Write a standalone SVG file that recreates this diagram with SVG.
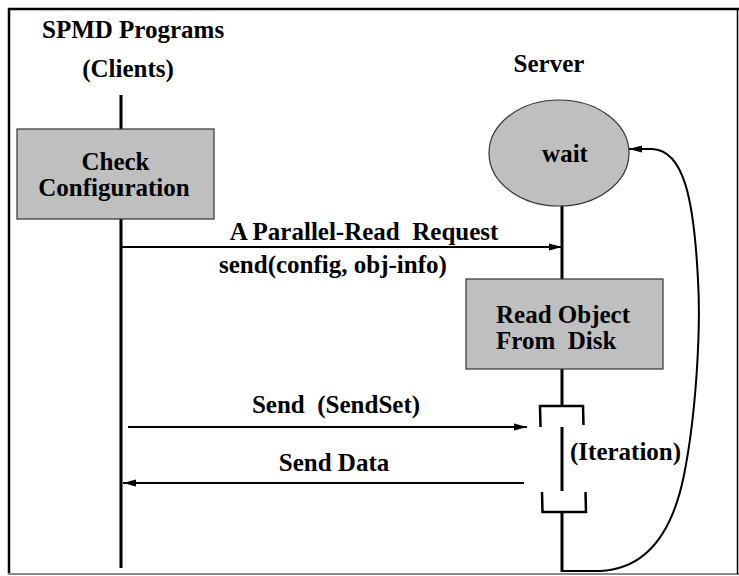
<svg xmlns="http://www.w3.org/2000/svg" width="739" height="576" viewBox="0 0 739 576">
  <defs>
    <marker id="arrow" markerUnits="userSpaceOnUse" markerWidth="14" markerHeight="8" refX="13" refY="4" orient="auto">
      <path d="M0,0.5 L13,4 L0,7.5 Z" fill="#000"/>
    </marker>
    <style>
      text { font-family: "Liberation Serif", "DejaVu Serif", serif; font-weight: 700; font-size: 25px; fill: #000; white-space: pre; }
      .mid { text-anchor: middle; }
      .box { fill: #bfbfbf; stroke: #333; stroke-width: 1.2; }
      .life { stroke: #000; stroke-width: 3; fill: none; }
      .msg { stroke: #000; stroke-width: 2; fill: none; marker-end: url(#arrow); }
      .bracket { stroke: #000; stroke-width: 2.5; fill: none; }
    </style>
  </defs>

  <!-- frame -->
  <rect x="0" y="0" width="739" height="576" fill="#fff"/>
  <line x1="8" y1="9" x2="739" y2="9" stroke="#000" stroke-width="2.5"/>
  <line x1="9" y1="8" x2="9" y2="574" stroke="#000" stroke-width="2.5"/>
  <line x1="8" y1="574" x2="739" y2="574" stroke="#8c8c8c" stroke-width="2"/>
  <line x1="737.5" y1="8" x2="737.5" y2="574" stroke="#000" stroke-width="1.5"/>

  <!-- column headings -->
  <g id="clients-heading">
    <text x="42" y="38">SPMD Programs</text>
    <text class="mid" x="128" y="77">(Clients)</text>
  </g>
  <g id="server-heading">
    <text class="mid" x="549" y="72">Server</text>
  </g>

  <!-- lifelines -->
  <g id="lifelines">
    <line class="life" x1="121" y1="95" x2="121" y2="568"/>
    <line class="life" x1="562" y1="200" x2="562" y2="406"/>
    <line class="life" x1="562" y1="427" x2="562" y2="491"/>
    <line class="life" x1="562" y1="512" x2="562" y2="572"/>
  </g>

  <!-- iteration brackets -->
  <g id="iteration">
    <path class="bracket" d="M540.5,427 L540,406 L583,406 L583.5,425"/>
    <path class="bracket" d="M542,492 L542.5,512 L586,512 L585.5,492"/>
    <text x="570" y="460">(Iteration)</text>
  </g>

  <!-- connectors -->
  <g id="connectors">
    <line class="msg" x1="121" y1="247" x2="562" y2="247"/>
    <line class="msg" x1="128" y1="427" x2="527" y2="427"/>
    <line class="msg" x1="524" y1="483" x2="123" y2="483"/>
    <path class="msg" d="M562,571 L600,571 C645,569 672,535 684,475 C696,415 701,330 698,280 C694,200 684,150 652,149 L629,149"/>
    <text class="mid" x="364" y="240">A Parallel-Read  Request</text>
    <text x="219" y="273">send(config, obj-info)</text>
    <text class="mid" x="336" y="413">Send  (SendSet)</text>
    <text class="mid" x="334" y="471">Send Data</text>
  </g>

  <!-- nodes -->
  <g id="check-configuration">
    <rect class="box" x="17" y="129" width="197" height="90"/>
    <text class="mid" x="115.5" y="170">Check</text>
    <text class="mid" x="114" y="196">Configuration</text>
  </g>

  <g id="wait">
    <ellipse class="box" cx="559" cy="153" rx="70" ry="53"/>
    <text class="mid" x="565" y="162">wait</text>
  </g>

  <g id="read-object">
    <rect class="box" x="466" y="279" width="197" height="90"/>
    <text x="496" y="323">Read Object</text>
    <text x="496" y="349">From  Disk</text>
  </g>
</svg>
